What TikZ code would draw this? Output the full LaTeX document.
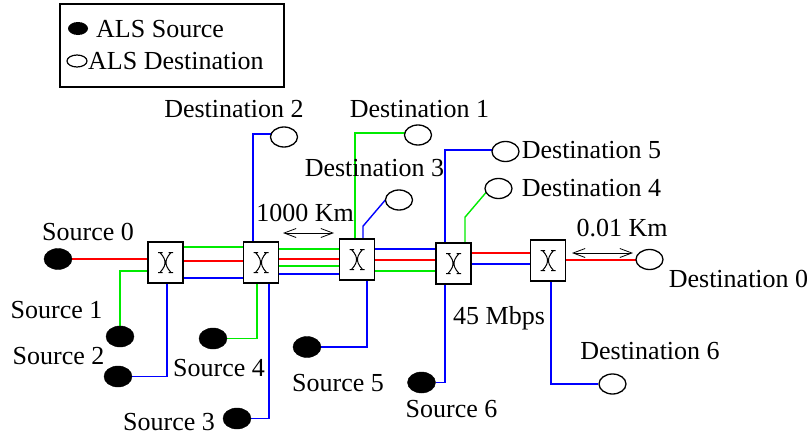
\documentclass[tikz,border=0pt]{standalone}
\usepackage{fontspec}
\setmainfont{Liberation Serif}
\usetikzlibrary{shapes.geometric,arrows.meta,backgrounds}
\definecolor{lgreen}{RGB}{0,235,0}
\definecolor{lred}{RGB}{255,0,0}
\definecolor{lblue}{RGB}{0,0,255}
\begin{document}
\begin{tikzpicture}[x=1pt,y=-1pt,
  font=\fontsize{26}{30}\selectfont,
  src/.style={ellipse, fill=black, draw=black, minimum width=28pt, minimum height=21pt, inner sep=0pt},
  dst/.style={ellipse, fill=white, draw=black, line width=1.3pt, minimum width=27pt, minimum height=20pt, inner sep=0pt},
  swbox/.style={rectangle, draw, fill=white, line width=1.6pt, minimum width=35pt, minimum height=41pt, inner sep=0pt,
    path picture={\begin{scope}[shift={(path picture bounding box.center)}]
      \draw[line width=1pt] (-7.5,-10) -- (-3,-10) (3,-10) -- (7.5,-10) (-7.5,10) -- (-3,10) (3,10) -- (7.5,10)
        (-5.5,-10) .. controls (-1,-5) and (-0.5,-2) .. (-0.5,0) .. controls (-0.5,2) and (-1,5) .. (-5.5,10)
        (5.5,-10) .. controls (1,-5) and (0.5,-2) .. (0.5,0) .. controls (0.5,2) and (1,5) .. (5.5,10);
    \end{scope}}},
  lbl/.style={anchor=base, inner sep=0pt},
  wire/.style={line width=1.4pt},
  dimarrow/.style={line width=0.8pt, {Straight Barb[length=12pt,width=9pt]}-{Straight Barb[length=12pt,width=9pt]}}]
\useasboundingbox (0,0) rectangle (809,439);

% legend
\node[draw, line width=1.3pt, minimum width=224pt, minimum height=83pt, inner sep=0pt] (legend) at (172,45.5) {};
\node[ellipse, fill=black, minimum width=20pt, minimum height=13pt, inner sep=0pt] (lsrc) at (78,28.5) {};
\node[ellipse, draw, line width=1.2pt, minimum width=20pt, minimum height=12pt, inner sep=0pt] (ldst) at (77,61) {};
\node[lbl, anchor=base west] (lsrct) at (96,37) {ALS Source};
\node[lbl, anchor=base west] (ldstt) at (88,69) {ALS Destination};

% switches
\node[swbox] (s1) at (165.5,262.5) {};
\node[swbox] (s2) at (261,262.5) {};
\node[swbox] (s3) at (357,259.5) {};
\node[swbox] (s4) at (453.5,263.5) {};
\node[swbox] (s5) at (548,260.5) {};

% sources
\node[src] (src0) at (58,259) {};
\node[src] (src1) at (120,336.5) {};
\node[src] (src2) at (118,376.5) {};
\node[src] (src3) at (237,418.5) {};
\node[src] (src4) at (213,338.5) {};
\node[src] (src5) at (307,347) {};
\node[src] (src6) at (421.5,382.5) {};

% destinations
\node[dst] (dst0) at (649.5,259.5) {};
\node[dst] (dst1) at (418,135) {};
\node[dst] (dst2) at (284,137) {};
\node[dst] (dst3) at (399,200) {};
\node[dst] (dst4) at (498.5,188.5) {};
\node[dst] (dst5) at (505.5,151.5) {};
\node[dst] (dst6) at (612.5,384) {};

% labels
\node[lbl] (t-s0) at (88,240) {Source 0};
\node[lbl] (t-s1) at (56.5,318) {Source 1};
\node[lbl] (t-s2) at (58.5,364) {Source 2};
\node[lbl] (t-s3) at (169,430) {Source 3};
\node[lbl] (t-s4) at (219,376) {Source 4};
\node[lbl] (t-s5) at (338,391) {Source 5};
\node[lbl] (t-s6) at (451.5,417) {Source 6};
\node[lbl] (t-bw) at (499,324) {45 Mbps};
\node[lbl] (t-d0) at (738.5,287) {Destination 0};
\node[lbl] (t-d1) at (419.5,117) {Destination 1};
\node[lbl] (t-d2) at (234,117) {Destination 2};
\node[lbl] (t-d3) at (374.5,176) {Destination 3};
\node[lbl] (t-d4) at (591.5,196) {Destination 4};
\node[lbl] (t-d5) at (591.5,158) {Destination 5};
\node[lbl] (t-d6) at (650,359) {Destination 6};
\node[lbl] (t-1000) at (305,221) {1000 Km};
\node[lbl] (t-001) at (622,236) {0.01 Km};

% distance arrows
\coordinate (d1a) at (283,233);
\coordinate (d1b) at (334,233);
\coordinate (d2a) at (572,253);
\coordinate (d2b) at (633,253);
\draw[dimarrow] (d1a) -- (d1b);
\draw[dimarrow] (d2a) -- (d2b);

\begin{scope}[on background layer]
% trunk lines
\draw[wire, lred] (src0) -- (src0 -| s1.west);
\draw[wire, lgreen] (s1.east |- 0,247) -- (s2.west |- 0,247);
\draw[wire, lred] (s1.east |- 0,261) -- (s2.west |- 0,261);
\draw[wire, lblue] (s1.east |- 0,278) -- (s2.west |- 0,278);
\draw[wire, lgreen] (s2.east |- 0,249) -- (s3.west |- 0,249);
\draw[wire, lred] (s2.east |- 0,259) -- (s3.west |- 0,259);
\draw[wire, lgreen] (s2.east |- 0,266) -- (s3.west |- 0,266);
\draw[wire, lblue] (s2.east |- 0,274) -- (s3.west |- 0,274);
\draw[wire, lblue] (s3.east |- 0,249) -- (s4.west |- 0,249);
\draw[wire, lred] (s3.east |- 0,260) -- (s4.west |- 0,260);
\draw[wire, lgreen] (s3.east |- 0,271) -- (s4.west |- 0,271);
\draw[wire, lred] (s4.east |- 0,253) -- (s5.west |- 0,253);
\draw[wire, lblue] (s4.east |- 0,264) -- (s5.west |- 0,264);
\draw[wire, lred] (s5.east |- 0,260) -- (dst0 |- 0,260);
% sources
\draw[wire, lgreen] (src1) |- (s1.west |- 0,271);
\draw[wire, lblue] (src2) -| (s1.south -| 167,0);
\draw[wire, lgreen] (src4) -| (s2.south -| 257,0);
\draw[wire, lblue] (src3) -| (s2.south -| 269,0);
\draw[wire, lblue] (src5) -| (s3.south -| 367,0);
\draw[wire, lblue] (src6) -| (s4.south -| 445,0);
% destinations
\draw[wire, lblue] (s5.south -| 551,0) |- (dst6);
\draw[wire, lblue] (s2.north -| 253,0) |- (dst2.center |- 0,134);
\draw[wire, lgreen] (s3.north -| 355,0) |- (dst1.center |- 0,133);
\draw[wire, lblue] (s3.north -| 363,0) -- ++(0,-12) -- ([shift={(-12,-2)}]dst3.center);
\draw[wire, lblue] (s4.north -| 445,0) |- (dst5.center |- 0,150);
\draw[wire, lgreen] (s4.north -| 465,0) -- ++(0,-25) -- ([shift={(-9.5,0.5)}]dst4.center);
\end{scope}
\end{tikzpicture}
\end{document}
